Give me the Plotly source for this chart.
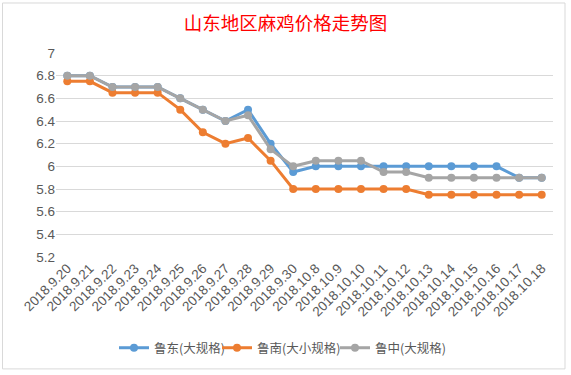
import plotly.graph_objects as go

dates = ["2018.9.20", "2018.9.21", "2018.9.22", "2018.9.23", "2018.9.24", "2018.9.25",
         "2018.9.26", "2018.9.27", "2018.9.28", "2018.9.29", "2018.9.30", "2018.10.8",
         "2018.10.9", "2018.10.10", "2018.10.11", "2018.10.12", "2018.10.13", "2018.10.14",
         "2018.10.15", "2018.10.16", "2018.10.17", "2018.10.18"]

ludong = [6.8, 6.8, 6.7, 6.7, 6.7, 6.6, 6.5, 6.4, 6.5, 6.2, 5.95, 6.0,
          6.0, 6.0, 6.0, 6.0, 6.0, 6.0, 6.0, 6.0, 5.9, 5.9]
lunan = [6.75, 6.75, 6.65, 6.65, 6.65, 6.5, 6.3, 6.2, 6.25, 6.05, 5.8, 5.8,
         5.8, 5.8, 5.8, 5.8, 5.75, 5.75, 5.75, 5.75, 5.75, 5.75]
luzhong = [6.8, 6.8, 6.7, 6.7, 6.7, 6.6, 6.5, 6.4, 6.45, 6.15, 6.0, 6.05,
           6.05, 6.05, 5.95, 5.95, 5.9, 5.9, 5.9, 5.9, 5.9, 5.9]

series_names = ["鲁东(大规格)", "鲁南(大小规格)", "鲁中(大规格)"]
series_values = [ludong, lunan, luzhong]
colors = ["#5B9BD5", "#ED7D31", "#A5A5A5"]

y_ticks = [5.2, 5.4, 5.6, 5.8, 6.0, 6.2, 6.4, 6.6, 6.8, 7.0]
y_tick_text = ["5.2", "5.4", "5.6", "5.8", "6", "6.2", "6.4", "6.6", "6.8", "7"]

W, H = 571, 375
L, R, T, B = 56, 18, 53, 116
pw, ph = W - L - R, H - T - B

def px_x(p):
    return (p - L) / pw

def px_y(p):
    return (H - B - p) / ph

legend_ids = ["legend", "legend2", "legend3"]
legend_left_px = [114, 217, 335]

fig = go.Figure()
for name, vals, c, lid in zip(series_names, series_values, colors, legend_ids):
    fig.add_trace(go.Scatter(
        x=list(range(len(dates))), y=vals, name=name, mode="lines+markers",
        line=dict(color=c, width=3), marker=dict(color=c, size=8), legend=lid,
    ))

legend_style = dict(orientation="h", yanchor="middle", y=px_y(351), xanchor="left",
                    font=dict(size=12.5, color="#595959", family="Noto Sans CJK SC"),
                    itemwidth=30, bgcolor="rgba(0,0,0,0)")
legends = {}
for lid, lx in zip(legend_ids, legend_left_px):
    legends[lid] = dict(legend_style, x=px_x(lx))

fig.update_layout(
    width=W, height=H,
    margin=dict(l=L, r=R, t=T, b=B),
    paper_bgcolor="white", plot_bgcolor="white",
    font=dict(family="Liberation Sans, Noto Sans CJK SC", color="#595959", size=12),
    title=dict(text="山东地区麻鸡价格走势图", x=0.5, xref="container", xanchor="center",
               y=1 - 24 / H, yref="container", yanchor="middle",
               font=dict(family="Noto Sans CJK SC", size=18.5, color="#FF0000")),
    xaxis=dict(range=[-0.5, len(dates) - 0.5], tickmode="array",
               tickvals=list(range(len(dates))), ticktext=dates, tickangle=-45,
               showgrid=False, showline=False, zeroline=False, ticks="",
               automargin=False,
               tickfont=dict(size=13.5, color="#595959")),
    yaxis=dict(range=[5.2, 7.0], tickmode="array", tickvals=y_ticks, ticktext=y_tick_text,
               showgrid=True, gridcolor="#D9D9D9", gridwidth=1, zeroline=False,
               showline=False, ticks="", automargin=False,
               tickfont=dict(size=13.5, color="#595959")),
    showlegend=True,
    shapes=[dict(type="rect", xref="paper", yref="paper",
                 x0=px_x(2.5), x1=px_x(565), y0=px_y(372), y1=px_y(2.5),
                 line=dict(color="#D9D9D9", width=1), layer="below")],
    **legends,
)

fig.write_html("out.html", config={"displayModeBar": False},
               post_script="document.body.style.margin='0';document.body.style.overflow='hidden';")
